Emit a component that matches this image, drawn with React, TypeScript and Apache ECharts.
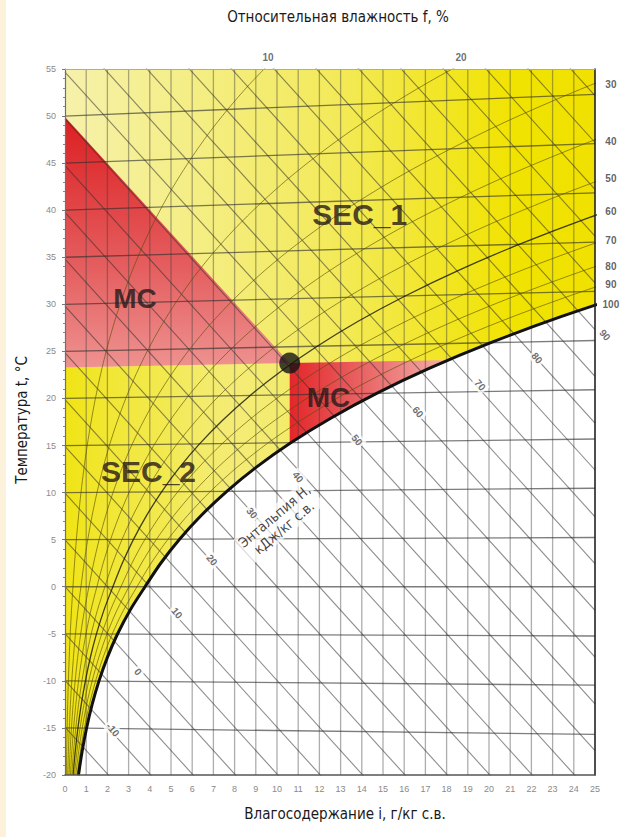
import React, { useEffect, useRef } from "react";
import * as echarts from "echarts";

// ---- data ----
const PRESSURE_KPA = 101.325;
// saturation vapour pressure table (kPa), over ice below 0 °C
const satTemps = [-20, -17.5, -15, -12.5, -10, -7.5, -5, -2.5, 0, 2.5, 5, 7.5, 10, 12.5, 15, 17.5, 20, 22.5, 25, 27.5, 30, 32.5, 35, 37.5, 40, 42.5, 45, 47.5, 50, 52.5, 55];
const satPressures = [0.1033, 0.1309, 0.1653, 0.2077, 0.26, 0.3238, 0.4018, 0.4964, 0.6112, 0.7316, 0.8726, 1.0375, 1.2282, 1.4497, 1.7057, 2.0016, 2.3392, 2.7266, 3.1697, 3.673, 4.2467, 4.894, 5.6286, 6.454, 7.3844, 8.423, 9.5944, 10.888, 12.351, 13.963, 15.761];
const rhLevels = [10, 20, 30, 40, 50, 60, 70, 80, 90];
const enthalpyLevels = [-15, -10, -5, 0, 5, 10, 15, 20, 25, 30, 35, 40, 45, 50, 55, 60, 65, 70, 75, 80, 85, 90, 95, 100, 105, 110, 115];
const isothermLevels = [-15, -10, -5, 0, 5, 10, 15, 20, 25, 30, 35, 40, 45, 50];
const moistureLines = [1, 2, 3, 4, 5, 6, 7, 8, 9, 10, 11, 12, 13, 14, 15, 16, 17, 18, 19, 20, 21, 22, 23, 24];

const enthalpyLabelValues = [-10, 0, 10, 20, 30, 40, 50, 60, 70, 80, 90];
const enthalpyLabelD = [2.26, 3.44, 5.28, 6.93, 8.82, 10.99, 13.77, 16.65, 19.58, 22.26, 25.47];
const enthalpyLabelY = [-15.2, -9.05, -2.79, 2.84, 7.84, 11.66, 15.59, 18.56, 21.43, 24.3, 26.74];

const rhRightLabels = [30, 40, 50, 60, 70, 80, 90, 100];
const rhRightLabelY = [53.4, 47.35, 43.4, 39.9, 36.8, 34.0, 32.06, 30.0];
const rhTopLabels = [10, 20];
const rhTopLabelD = [9.58, 18.68];

const zoneNames = ["MC", "SEC_1", "MC", "SEC_2"];
const zoneD = [3.3, 13.9, 12.43, 3.94];
const zoneY = [30.67, 39.5, 20.1, 12.24];
const zoneFont = [28, 30, 28, 30];

const mcUpper = [[0, 49.9], [10.6, 23.76], [0, 23.3]];
const mcLower = [[10.6, 23.76], [19, 24.12], [19, 14], [10.6, 14]];
const sec2Zone = [[0, 23.3], [10.6, 23.76], [10.6, -20], [0, -20]];
const plotArea = [[0, -20], [25, -20], [25, 55], [0, 55]];
const statePoint = [10.6, 23.76];
const enthalpyCaptionPos = [10.1, 6.9];

// ---- helpers ----
const Yof = (t: number, d: number) => (t * (1.006 + 0.00186 * d)) / 1.006;
const dOf = (pw: number) => (622 * pw) / (PRESSURE_KPA - pw);
const rhCurve = (rh: number, maxT: number) =>
  satTemps
    .map((t, i) => ({ t, d: dOf((rh / 100) * satPressures[i]) }))
    .filter((p) => p.t <= maxT)
    .map((p) => [p.d, Yof(p.t, p.d)]);

const NARROW = "'Liberation Sans Narrow', 'Arial Narrow', 'DejaVu Sans Condensed', 'Liberation Sans', sans-serif";
const BOLD = "'Liberation Sans', Arial, sans-serif";

const polygon = (pts: number[][], fill: any, z: number) => ({
  type: "custom",
  silent: true,
  z,
  data: [[pts[0][0], pts[0][1]]],
  renderItem: (_p: any, api: any) => ({
    type: "polygon",
    shape: { points: pts.map((p) => api.coord(p)) },
    style: { fill },
  }),
});

const lineSeries = (data: number[][], color: string, width: number, z: number, smooth: any = false) => ({
  type: "line",
  data,
  symbol: "none",
  silent: true,
  smooth,
  z,
  lineStyle: { color, width },
  animation: false,
});

function buildOption() {
  const LG = echarts.graphic.LinearGradient;
  const series: any[] = [];

  series.push(
    polygon(
      plotArea,
      new LG(0, 0, 1, 0, [
        { offset: 0, color: "#f6f1aa" },
        { offset: 0.5, color: "#f3ea5c" },
        { offset: 0.85, color: "#f1e300" },
        { offset: 1, color: "#f0e100" },
      ]),
      1
    )
  );
  series.push(
    polygon(
      sec2Zone,
      new LG(0, 0, 1, 0, [
        { offset: 0, color: "rgba(240,228,20,1)" },
        { offset: 0.45, color: "rgba(241,230,40,0.6)" },
        { offset: 1, color: "rgba(244,238,150,0)" },
      ]),
      2
    )
  );
  series.push(
    polygon(
      mcUpper,
      new LG(0, 0, 0, 1, [
        { offset: 0, color: "#dc1f22" },
        { offset: 0.6, color: "#e55e5f" },
        { offset: 1, color: "#ee9290" },
      ]),
      3
    )
  );
  series.push(
    polygon(
      mcLower,
      new LG(0, 0, 1, 0, [
        { offset: 0, color: "#e3262a" },
        { offset: 0.45, color: "#ea6a6a" },
        { offset: 1, color: "#f6c2bb" },
      ]),
      3
    )
  );

  const sat = rhCurve(100, 35);
  series.push({
    type: "line",
    data: [[0, -20], ...sat],
    symbol: "none",
    silent: true,
    smooth: 0.3,
    z: 4,
    lineStyle: { width: 0, color: "#fff" },
    areaStyle: { color: "#ffffff", opacity: 1, origin: "start" },
  });

  moistureLines.forEach((d) => series.push(lineSeries([[d, -20], [d, 55]], "rgba(60,60,60,0.42)", 1.3, 5)));
  isothermLevels.forEach((t) => series.push(lineSeries([[0, t], [25, Yof(t, 25)]], "rgba(45,45,45,0.62)", 1.3, 5)));
  enthalpyLevels.forEach((h) =>
    series.push(lineSeries([[0, h / 1.006], [25, (h - 2.501 * 25) / 1.006]], "rgba(45,45,45,0.55)", 1.1, 5))
  );
  rhLevels.forEach((rh) =>
    series.push(
      lineSeries(rhCurve(rh, 55), rh === 60 ? "rgba(20,20,10,0.8)" : "rgba(85,75,0,0.6)", rh === 60 ? 1.3 : 1, 6, 0.3)
    )
  );
  series.push(lineSeries(sat, "#111", 3, 7, 0.3));

  series.push({
    type: "scatter",
    data: [statePoint],
    symbolSize: 21,
    itemStyle: { color: "#141414" },
    silent: true,
    z: 8,
  });

  const textItems: any[] = [];
  enthalpyLabelValues.forEach((v, i) =>
    textItems.push({
      value: [enthalpyLabelD[i], enthalpyLabelY[i]],
      label: {
        show: true,
        position: "inside",
        formatter: String(v),
        rotate: -50,
        fontSize: 10,
        fontWeight: "bold",
        fontFamily: BOLD,
        color: "#4a4a4a",
        backgroundColor: "#ffffff",
        padding: [1, 2],
      },
    })
  );
  rhRightLabels.forEach((v, i) =>
    textItems.push({
      value: [25.75, rhRightLabelY[i]],
      label: { show: true, position: "inside", formatter: String(v), fontSize: 10, fontWeight: "bold", fontFamily: BOLD, color: "#3a3a3a" },
    })
  );
  rhTopLabels.forEach((v, i) =>
    textItems.push({
      value: [rhTopLabelD[i], 56.27],
      label: { show: true, position: "inside", formatter: String(v), fontSize: 10, fontWeight: "bold", fontFamily: BOLD, color: "#4a4a4a" },
    })
  );
  zoneNames.forEach((n, i) =>
    textItems.push({
      value: [zoneD[i], zoneY[i]],
      label: { show: true, position: "inside", formatter: n, fontSize: zoneFont[i], fontWeight: "bold", fontFamily: BOLD, color: "#241818" },
    })
  );
  textItems.push({
    value: enthalpyCaptionPos,
    label: {
      show: true,
      position: "inside",
      formatter: "Энтальпия H,\nкДж/кг с.в.",
      rotate: 40,
      fontSize: 14,
      lineHeight: 15,
      align: "center",
      fontFamily: NARROW,
      color: "#111",
      backgroundColor: "rgba(255,255,255,0.85)",
      padding: [1, 2],
    },
  });

  series.push({
    type: "scatter",
    data: textItems,
    symbolSize: 0.1,
    itemStyle: { color: "rgba(0,0,0,0)" },
    silent: true,
    clip: false,
    z: 9,
  });

  return {
    animation: false,
    backgroundColor: "#ffffff",
    grid: { left: 65, right: 30, top: 69, bottom: 62, containLabel: false },
    xAxis: [
      {
        type: "value",
        min: 0,
        max: 25,
        interval: 1,
        position: "bottom",
        z: 10,
        axisLine: { show: true, onZero: false, lineStyle: { color: "#555", width: 1.5 } },
        axisTick: { show: false },
        axisLabel: { fontSize: 9, color: "#8a8a8a", margin: 9, fontFamily: BOLD },
        splitLine: { show: false },
      },
      {
        type: "value",
        min: 0,
        max: 25,
        position: "top",
        z: 10,
        axisLine: { show: true, onZero: false, lineStyle: { color: "#c2b440", width: 1 } },
        axisTick: { show: false },
        axisLabel: { show: false },
        splitLine: { show: false },
      },
    ],
    yAxis: [
      {
        type: "value",
        min: -20,
        max: 55,
        interval: 5,
        z: 10,
        axisLine: { show: true, onZero: false, lineStyle: { color: "#707070", width: 1.2 } },
        axisTick: { show: true, length: 3, lineStyle: { color: "#777" } },
        minorTick: { show: true, splitNumber: 5, length: 2, lineStyle: { color: "#888" } },
        axisLabel: { fontSize: 9, color: "#8a8a8a", margin: 9, fontFamily: BOLD },
        splitLine: { show: false },
      },
      {
        type: "value",
        min: -20,
        max: 55,
        position: "right",
        z: 10,
        axisLine: { show: true, onZero: false, lineStyle: { color: "#222", width: 1.6 } },
        axisTick: { show: false },
        axisLabel: { show: false },
        splitLine: { show: false },
      },
    ],
    graphic: [
      { type: "rect", shape: { x: 0, y: 0, width: 6, height: 837 }, style: { fill: "#fcf2dc" }, silent: true },
      {
        type: "text",
        x: 338,
        y: 17,
        style: { text: "Относительная влажность f, %", fontSize: 15, fontFamily: NARROW, fill: "#1a1a1a", align: "center", verticalAlign: "middle" },
      },
      {
        type: "text",
        x: 345,
        y: 814,
        style: { text: "Влагосодержание i, г/кг с.в.", fontSize: 15, fontFamily: NARROW, fill: "#1a1a1a", align: "center", verticalAlign: "middle" },
      },
      {
        type: "text",
        x: 22,
        y: 420,
        rotation: Math.PI / 2,
        style: { text: "Температура t, °C", fontSize: 15, fontFamily: NARROW, fill: "#1a1a1a", align: "center", verticalAlign: "middle" },
      },
    ],
    series,
  };
}

export default function App() {
  const ref = useRef<HTMLDivElement>(null);
  useEffect(() => {
    if (!ref.current) return;
    const chart = echarts.init(ref.current, null, { renderer: "svg" });
    chart.setOption(buildOption() as any);
    return () => chart.dispose();
  }, []);
  return (
    <div
      ref={ref}
      style={{ position: "absolute", left: 0, top: 0, width: 625, height: 837, background: "#fff" }}
    />
  );
}
